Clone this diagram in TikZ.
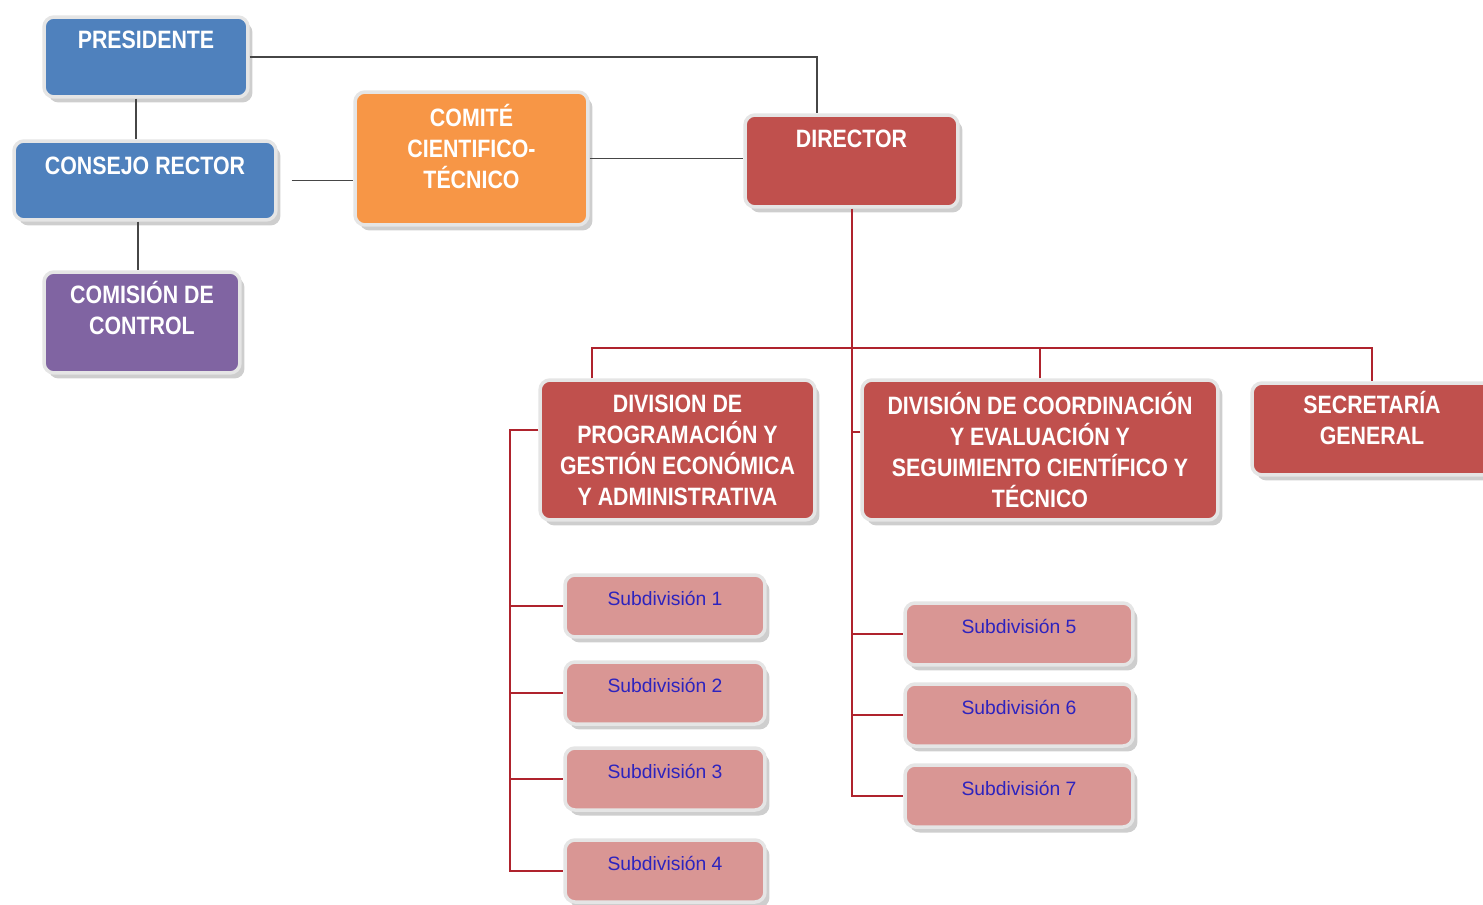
\documentclass[tikz,border=0pt]{standalone}
\usepackage{fontspec}
\setmainfont{Liberation Sans}
\newfontfamily\headfont[FakeStretch=0.85]{Liberation Sans}
\usepackage{tikz}
\usetikzlibrary{shadows}
\definecolor{Org-blue}{RGB}{79,129,189}
\definecolor{Org-purple}{RGB}{128,100,162}
\definecolor{Org-orange}{RGB}{247,150,70}
\definecolor{Org-red}{RGB}{192,80,77}
\definecolor{Org-pink}{RGB}{217,150,148}
\definecolor{Org-ink}{RGB}{45,35,190}
\definecolor{Org-grey}{RGB}{70,70,70}
\definecolor{Org-wire}{RGB}{175,35,45}

\begin{document}
\begin{tikzpicture}[x=0.02cm,y=-0.02cm]
    \tikzset{ box/.style    ={draw=white!90!black, line width=0.07cm, rounded corners=0.2cm, inner sep=0pt, drop shadow={shadow xshift=0.09cm, shadow yshift=-0.11cm, fill=black!38}} }
    \tikzset{ headbox/.style={box, text=white, align=center, font={\headfont\bfseries\fontsize{14.3}{17.6}\selectfont}} }
    \tikzset{ subbox/.style ={box, fill=Org-pink, text=Org-ink, font={\fontsize{11}{13}\selectfont}, minimum height=1.24cm, text height=0.28cm, text depth=0.32cm} }
    \tikzset{ gline/.style  ={draw=Org-grey, line width=0.035cm} }
    \tikzset{ rline/.style  ={draw=Org-wire, line width=0.04cm} }

    \useasboundingbox (0,0) rectangle (1483,905);
    \clip (0,0) rectangle (1483,905);

    \node[headbox, fill=Org-blue,   minimum width=4.08cm, minimum height=1.6cm,  text height=0.36cm, text depth=0.68cm] (pres)   at (146, 57)      {PRESIDENTE};
    \node[headbox, fill=Org-blue,   minimum width=5.24cm, minimum height=1.58cm, text height=0.36cm, text depth=0.58cm] (cons)   at (145, 180.5)   {CONSEJO RECTOR};
    \node[headbox, fill=Org-purple, minimum width=3.92cm, minimum height=2.02cm, text depth=0.58cm] (comis)  at (142, 322.5)   {COMISIÓN DE\\CONTROL};
    \node[headbox, fill=Org-orange, minimum width=4.66cm, minimum height=2.66cm, text depth=0.5cm]  (comite) at (471.5, 158.5) {COMITÉ\\CIENTIFICO-\\TÉCNICO};
    \node[headbox, fill=Org-red,    minimum width=4.26cm, minimum height=1.84cm, text height=0.36cm, text depth=0.92cm] (dir)    at (851.5, 161)   {DIRECTOR};
    \node[headbox, fill=Org-red,    minimum width=5.5cm,  minimum height=2.8cm]  (div1)   at (677.5, 450)   {DIVISION DE\\PROGRAMACIÓN Y\\GESTIÓN ECONÓMICA\\Y ADMINISTRATIVA};
    \node[headbox, fill=Org-red,    minimum width=7.12cm, minimum height=2.8cm]  (div2)   at (1040, 450)    {DIVISIÓN DE COORDINACIÓN\\Y EVALUACIÓN Y\\SEGUIMIENTO CIENTÍFICO Y\\TÉCNICO};
    \node[headbox, fill=Org-red,    minimum width=4.8cm,  minimum height=1.84cm, text depth=0.44cm] (sec)    at (1372, 429)    {SECRETARÍA\\GENERAL};

    \node[subbox, minimum width=4cm]    (sub1) at (665, 606)  {Subdivisión 1};
    \node[subbox, minimum width=4cm]    (sub2) at (665, 693)  {Subdivisión 2};
    \node[subbox, minimum width=4cm]    (sub3) at (665, 779)  {Subdivisión 3};
    \node[subbox, minimum width=4cm]    (sub4) at (665, 871)  {Subdivisión 4};
    \node[subbox, minimum width=4.56cm] (sub5) at (1019, 634) {Subdivisión 5};
    \node[subbox, minimum width=4.56cm] (sub6) at (1019, 715) {Subdivisión 6};
    \node[subbox, minimum width=4.56cm] (sub7) at (1019, 796) {Subdivisión 7};

    % upper part
    \coordinate (pc) at ([xshift=-0.2cm]pres.south);
    \coordinate (cc) at ([xshift=-0.14cm]cons.south);
    \coordinate (dn) at ([xshift=-0.69cm]dir.north);
    \draw[gline] (pres.east) -| (dn);
    \draw[gline] (pc) -- (pc |- cons.north);
    \draw[gline] (cc) -- (cc |- comis.north);
    \draw[gline, shorten <=0.28cm] (cons.east) -- (cons.east -| comite.west);
    \draw[gline] (comite.east) -- (comite.east -| dir.west);

    % divisions
    \coordinate (bus)  at (851.5, 348);
    \coordinate (d1up) at ([xshift=-1.71cm]div1.north);
    \draw[rline] (dir.south) |- (sub7.west);
    \draw[rline] (d1up) |- (bus) -| (sec.north);
    \draw[rline] (div2.north) -- (div2.north |- bus);

    % subdivisions
    \coordinate (d2in) at ([yshift=0.36cm]div2.west);
    \draw[rline] (d2in) -- (d2in -| dir.south);
    \draw[rline] (dir.south |- sub5.west) -- (sub5.west);
    \draw[rline] (dir.south |- sub6.west) -- (sub6.west);
    \coordinate (lbus) at (510, 430);
    \draw[rline] (div1.west |- lbus) -- (lbus) |- (sub4.west);
    \draw[rline] (lbus |- sub1.west) -- (sub1.west);
    \draw[rline] (lbus |- sub2.west) -- (sub2.west);
    \draw[rline] (lbus |- sub3.west) -- (sub3.west);
\end{tikzpicture}
\end{document}
